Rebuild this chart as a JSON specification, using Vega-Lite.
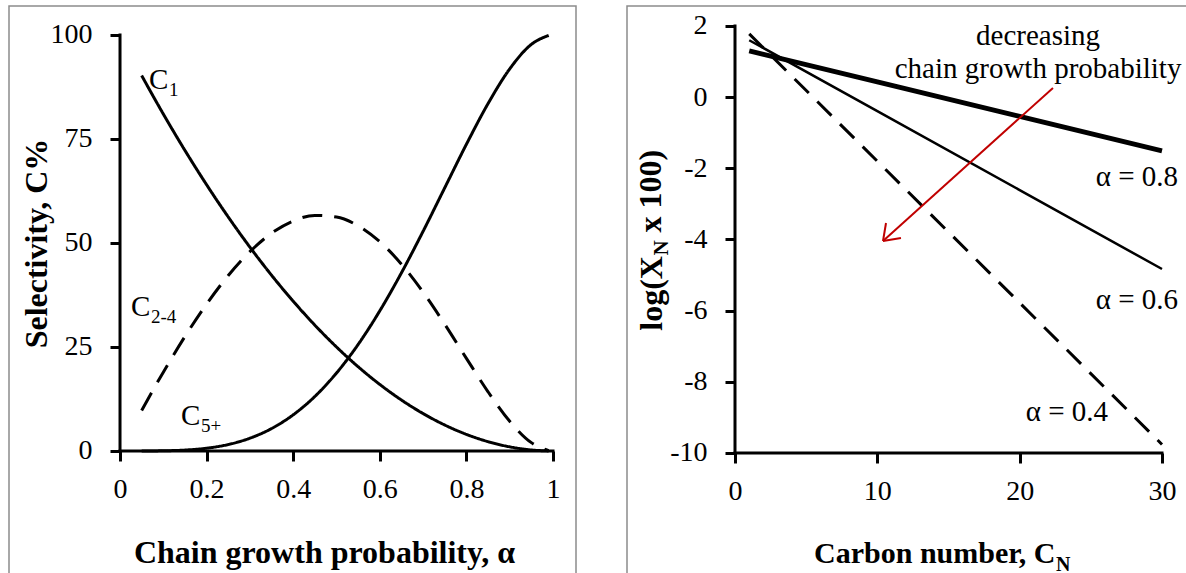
{
  "$schema": "https://vega.github.io/schema/vega-lite/v6.json",
  "padding": {"left": 8, "top": 5, "right": 0, "bottom": 0},
  "background": "white",
  "spacing": 49,
  "config": {
    "view": {"stroke": "#8c8c8c", "strokeWidth": 1.5},
    "font": "Liberation Serif"
  },
  "datasets": {
    "selectivity": [
      {"alpha": 0.05, "series": "C1", "value": 90.25}, {"alpha": 0.1, "series": "C1", "value": 81}, {"alpha": 0.15, "series": "C1", "value": 72.25}, {"alpha": 0.2, "series": "C1", "value": 64}, {"alpha": 0.25, "series": "C1", "value": 56.25}, {"alpha": 0.3, "series": "C1", "value": 49}, {"alpha": 0.35, "series": "C1", "value": 42.25}, {"alpha": 0.4, "series": "C1", "value": 36}, {"alpha": 0.45, "series": "C1", "value": 30.25}, {"alpha": 0.5, "series": "C1", "value": 25}, {"alpha": 0.55, "series": "C1", "value": 20.25}, {"alpha": 0.6, "series": "C1", "value": 16}, {"alpha": 0.65, "series": "C1", "value": 12.25}, {"alpha": 0.7, "series": "C1", "value": 9}, {"alpha": 0.75, "series": "C1", "value": 6.25}, {"alpha": 0.8, "series": "C1", "value": 4}, {"alpha": 0.85, "series": "C1", "value": 2.25}, {"alpha": 0.9, "series": "C1", "value": 1}, {"alpha": 0.95, "series": "C1", "value": 0.25}, {"alpha": 0.99, "series": "C1", "value": 0.01},
      {"alpha": 0.05, "series": "C2-4", "value": 9.75}, {"alpha": 0.1, "series": "C2-4", "value": 18.95}, {"alpha": 0.15, "series": "C2-4", "value": 27.53}, {"alpha": 0.2, "series": "C2-4", "value": 35.33}, {"alpha": 0.25, "series": "C2-4", "value": 42.19}, {"alpha": 0.3, "series": "C2-4", "value": 47.92}, {"alpha": 0.35, "series": "C2-4", "value": 52.35}, {"alpha": 0.4, "series": "C2-4", "value": 55.3}, {"alpha": 0.45, "series": "C2-4", "value": 56.63}, {"alpha": 0.5, "series": "C2-4", "value": 56.25}, {"alpha": 0.55, "series": "C2-4", "value": 54.13}, {"alpha": 0.6, "series": "C2-4", "value": 50.3}, {"alpha": 0.65, "series": "C2-4", "value": 44.91}, {"alpha": 0.7, "series": "C2-4", "value": 38.18}, {"alpha": 0.75, "series": "C2-4", "value": 30.47}, {"alpha": 0.8, "series": "C2-4", "value": 22.27}, {"alpha": 0.85, "series": "C2-4", "value": 14.23}, {"alpha": 0.9, "series": "C2-4", "value": 7.15}, {"alpha": 0.95, "series": "C2-4", "value": 2.01}, {"alpha": 0.99, "series": "C2-4", "value": 0.09},
      {"alpha": 0.05, "series": "C5+", "value": 0}, {"alpha": 0.1, "series": "C5+", "value": 0.05}, {"alpha": 0.15, "series": "C5+", "value": 0.22}, {"alpha": 0.2, "series": "C5+", "value": 0.67}, {"alpha": 0.25, "series": "C5+", "value": 1.56}, {"alpha": 0.3, "series": "C5+", "value": 3.08}, {"alpha": 0.35, "series": "C5+", "value": 5.4}, {"alpha": 0.4, "series": "C5+", "value": 8.7}, {"alpha": 0.45, "series": "C5+", "value": 13.12}, {"alpha": 0.5, "series": "C5+", "value": 18.75}, {"alpha": 0.55, "series": "C5+", "value": 25.62}, {"alpha": 0.6, "series": "C5+", "value": 33.7}, {"alpha": 0.65, "series": "C5+", "value": 42.84}, {"alpha": 0.7, "series": "C5+", "value": 52.82}, {"alpha": 0.75, "series": "C5+", "value": 63.28}, {"alpha": 0.8, "series": "C5+", "value": 73.73}, {"alpha": 0.85, "series": "C5+", "value": 83.52}, {"alpha": 0.9, "series": "C5+", "value": 91.85}, {"alpha": 0.95, "series": "C5+", "value": 97.74}, {"alpha": 0.99, "series": "C5+", "value": 99.9}
    ],
    "leftLabels": [
      {"alpha": 0.067, "value": 87, "main": "C", "sub": "1"},
      {"alpha": 0.0254, "value": 32.4, "main": "C", "sub": "2-4"},
      {"alpha": 0.141, "value": 6.2, "main": "C", "sub": "5+"}
    ],
    "leftAxes": [
      {"alpha": 0, "value": 0, "alpha2": 0, "value2": 100},
      {"alpha": 0, "value": 0, "alpha2": 1, "value2": 0}
    ],
    "distribution": [
      {"cn": 1, "alpha": "a0.8", "logx": 1.3}, {"cn": 10, "alpha": "a0.8", "logx": 0.43}, {"cn": 20, "alpha": "a0.8", "logx": -0.54}, {"cn": 30, "alpha": "a0.8", "logx": -1.51},
      {"cn": 1, "alpha": "a0.6", "logx": 1.6}, {"cn": 10, "alpha": "a0.6", "logx": -0.39}, {"cn": 20, "alpha": "a0.6", "logx": -2.61}, {"cn": 30, "alpha": "a0.6", "logx": -4.83},
      {"cn": 1, "alpha": "a0.4", "logx": 1.78}, {"cn": 10, "alpha": "a0.4", "logx": -1.8}, {"cn": 20, "alpha": "a0.4", "logx": -5.78}, {"cn": 30, "alpha": "a0.4", "logx": -9.76}
    ],
    "rightAxes": [
      {"cn": 0, "logx": -10, "cn2": 0, "logx2": 2},
      {"cn": 0, "logx": -10, "cn2": 30, "logx2": -10}
    ],
    "alphaLabels": [
      {"cn": 31.13, "logx": -2.5, "text": "α = 0.8"},
      {"cn": 31.13, "logx": -5.95, "text": "α = 0.6"},
      {"cn": 26.21, "logx": -9.1, "text": "α = 0.4"}
    ],
    "note": [
      {"cn": 21.29, "logx": 1.466, "text": "decreasing"},
      {"cn": 21.29, "logx": 0.539, "text": "chain growth probability"}
    ],
    "arrow": [
      {"cn": 22.34, "logx": 0.258, "cn2": 10.4, "logx2": -4.042},
      {"cn": 10.4, "logx": -4.042, "cn2": 11.66, "logx2": -3.958},
      {"cn": 10.4, "logx": -4.042, "cn2": 10.61, "logx2": -3.536}
    ],
    "ytitleSub": [
      {"cn": -4.707, "logx": -4.453, "text": "N"}
    ],
    "ytitleRest": [
      {"cn": -5.199, "logx": -3.801, "text": "x 100)"}
    ],
    "xtitleSub": [
      {"cn": 22.553, "logx": -13.317, "text": "N"}
    ]
  },
  "hconcat": [
    {
      "width": 567,
      "height": 590,
      "encoding": {
        "x": {
          "field": "alpha", "type": "quantitative",
          "scale": {"domain": [-0.2564, 1.0531], "nice": false, "zero": false},
          "axis": {
            "values": [0, 0.2, 0.4, 0.6, 0.8, 1], "format": "~g", "offset": -145,
            "domain": false, "grid": false, "ticks": true, "tickSize": 10, "tickWidth": 3, "tickColor": "black",
            "labelFont": "Liberation Serif", "labelFontSize": 28, "labelColor": "black", "labelPadding": 14,
            "labelFlush": false, "labelOverlap": false,
            "title": "Chain growth probability, α", "titleFont": "Liberation Serif", "titleFontSize": 32,
            "titleFontWeight": "bold", "titleColor": "black", "titleX": 315, "titleY": 111,
            "titleBaseline": "alphabetic", "titleAlign": "center"
          }
        },
        "y": {
          "field": "value", "type": "quantitative",
          "scale": {"domain": [-34.856, 106.971], "nice": false, "zero": false},
          "axis": {
            "values": [0, 25, 50, 75, 100], "offset": -111,
            "domain": false, "grid": false, "ticks": true, "tickSize": 10, "tickWidth": 3, "tickColor": "black",
            "labelFont": "Liberation Serif", "labelFontSize": 28, "labelColor": "black", "labelPadding": 18,
            "labelFlush": false, "labelOverlap": false,
            "title": "Selectivity, C%", "titleFont": "Liberation Serif", "titleFontSize": 32,
            "titleFontWeight": "bold", "titleColor": "black", "titleAngle": -90, "titleX": -74, "titleY": 237,
            "titleBaseline": "alphabetic", "titleAlign": "center"
          }
        }
      },
      "layer": [
        {
          "data": {"name": "selectivity"},
          "mark": {"type": "line", "color": "black", "strokeWidth": 3, "interpolate": "monotone"},
          "encoding": {
            "strokeDash": {
              "field": "series", "type": "nominal",
              "scale": {"domain": ["C1", "C2-4", "C5+"], "range": [[1, 0], [20, 12], [1, 0]]},
              "legend": null
            },
            "detail": {"field": "series", "type": "nominal"}
          }
        },
        {
          "data": {"name": "leftAxes"},
          "mark": {"type": "rule", "color": "black", "strokeWidth": 3, "strokeCap": "square"},
          "encoding": {
            "x2": {"field": "alpha2"},
            "y2": {"field": "value2"}
          }
        },
        {
          "data": {"name": "leftLabels"},
          "mark": {"type": "text", "font": "Liberation Serif", "fontSize": 29, "color": "black", "align": "left", "baseline": "alphabetic"},
          "encoding": {
            "text": {"field": "main"}
          }
        },
        {
          "data": {"name": "leftLabels"},
          "mark": {"type": "text", "font": "Liberation Serif", "fontSize": 19, "color": "black", "align": "left", "baseline": "alphabetic", "dx": 20, "dy": 7},
          "encoding": {
            "text": {"field": "sub"}
          }
        }
      ]
    },
    {
      "width": 566,
      "height": 590,
      "encoding": {
        "x": {
          "field": "cn", "type": "quantitative",
          "scale": {"domain": [-7.588, 32.178], "nice": false, "zero": false},
          "axis": {
            "values": [0, 10, 20, 30], "offset": -143,
            "domain": false, "grid": false, "ticks": true, "tickSize": 10, "tickWidth": 3, "tickColor": "black",
            "labelFont": "Liberation Serif", "labelFontSize": 28, "labelColor": "black", "labelPadding": 14,
            "labelFlush": false, "labelOverlap": false,
            "title": "Carbon number, C", "titleFont": "Liberation Serif", "titleFontSize": 30,
            "titleFontWeight": "bold", "titleColor": "black", "titleX": 428, "titleY": 109,
            "titleBaseline": "alphabetic", "titleAlign": "right"
          }
        },
        "y": {
          "field": "logx", "type": "quantitative",
          "scale": {"domain": [-14.019, 2.562], "nice": false, "zero": false},
          "axis": {
            "values": [-10, -8, -6, -4, -2, 0, 2], "labelExpr": "'' + datum.value", "offset": -108,
            "domain": false, "grid": false, "ticks": true, "tickSize": 10, "tickWidth": 3, "tickColor": "black",
            "labelFont": "Liberation Serif", "labelFontSize": 28, "labelColor": "black", "labelPadding": 18,
            "labelFlush": false, "labelOverlap": false,
            "title": "log(X", "titleFont": "Liberation Serif", "titleFontSize": 32,
            "titleFontWeight": "bold", "titleColor": "black", "titleAngle": -90, "titleX": -74, "titleY": 249.6,
            "titleBaseline": "alphabetic", "titleAlign": "right"
          }
        }
      },
      "layer": [
        {
          "data": {"name": "distribution"},
          "transform": [{"filter": "datum.alpha === 'a0.8'"}],
          "mark": {"type": "line", "color": "black", "strokeWidth": 5},
          "encoding": {}
        },
        {
          "data": {"name": "distribution"},
          "transform": [{"filter": "datum.alpha === 'a0.6'"}],
          "mark": {"type": "line", "color": "black", "strokeWidth": 2.5},
          "encoding": {}
        },
        {
          "data": {"name": "distribution"},
          "transform": [{"filter": "datum.alpha === 'a0.4'"}],
          "mark": {"type": "line", "color": "black", "strokeWidth": 3, "strokeDash": [20, 12]},
          "encoding": {}
        },
        {
          "data": {"name": "rightAxes"},
          "mark": {"type": "rule", "color": "black", "strokeWidth": 3, "strokeCap": "square"},
          "encoding": {
            "x2": {"field": "cn2"},
            "y2": {"field": "logx2"}
          }
        },
        {
          "data": {"name": "arrow"},
          "mark": {"type": "rule", "color": "#c00000", "strokeWidth": 2},
          "encoding": {
            "x2": {"field": "cn2"},
            "y2": {"field": "logx2"}
          }
        },
        {
          "data": {"name": "alphaLabels"},
          "mark": {"type": "text", "font": "Liberation Serif", "fontSize": 29, "color": "black", "align": "right", "baseline": "alphabetic"},
          "encoding": {"text": {"field": "text"}}
        },
        {
          "data": {"name": "note"},
          "mark": {"type": "text", "font": "Liberation Serif", "fontSize": 29, "color": "black", "align": "center", "baseline": "alphabetic"},
          "encoding": {"text": {"field": "text"}}
        },
        {
          "data": {"name": "ytitleSub"},
          "mark": {"type": "text", "font": "Liberation Serif", "fontSize": 21, "fontWeight": "bold", "color": "black", "align": "left", "baseline": "alphabetic", "angle": 270},
          "encoding": {"text": {"field": "text"}}
        },
        {
          "data": {"name": "ytitleRest"},
          "mark": {"type": "text", "font": "Liberation Serif", "fontSize": 32, "fontWeight": "bold", "color": "black", "align": "left", "baseline": "alphabetic", "angle": 270},
          "encoding": {"text": {"field": "text"}}
        },
        {
          "data": {"name": "xtitleSub"},
          "mark": {"type": "text", "font": "Liberation Serif", "fontSize": 20, "fontWeight": "bold", "color": "black", "align": "left", "baseline": "alphabetic"},
          "encoding": {"text": {"field": "text"}}
        }
      ]
    }
  ]
}
